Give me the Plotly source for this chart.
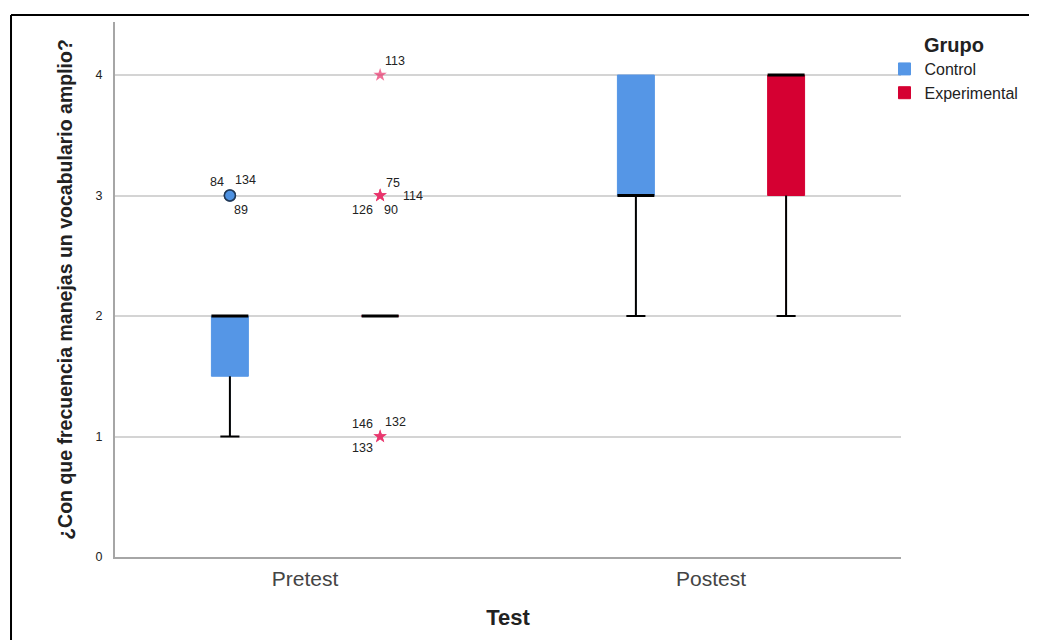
import plotly.graph_objects as go

# ---------------- data ----------------
tests = ["Pretest", "Postest"]
groups = ["Control", "Experimental"]

control_q1 = [1.5, 3]
control_median = [2, 3]
control_q3 = [2, 4]
control_low = [1, 2]
control_high = [2, 4]

exp_q1 = [2, 3]
exp_median = [2, 4]
exp_q3 = [2, 4]
exp_low = [2, 2]
exp_high = [2, 4]

# outliers (case numbers) : test, group, value, kind
out_case = ["84", "134", "89", "113", "75", "114", "126", "90", "146", "132", "133"]
out_test = ["Pretest"] * 11
out_group = ["Control"] * 3 + ["Experimental"] * 8
out_value = [3, 3, 3, 4, 3, 3, 3, 3, 1, 1, 1]
out_kind = ["outlier"] * 3 + ["extreme"] * 8

y_ticks = [0, 1, 2, 3, 4]

# ---------------- styles / positions ----------------
colors = {"Control": "#5596E6", "Experimental": "#D50032"}
group_offset = {"Control": -0.185, "Experimental": 0.185}
box_w = 0.091
cap_w = 0.047
label_shift = [(-13, 14), (16, 16), (11, -14), (15, 14), (13, 13), (33, 0),
               (-18, -14), (11, -14), (-18, 13), (15, 15), (-18, -11)]
FONT = "Liberation Sans, Arial, sans-serif"

stats = {
    "Control": (control_q1, control_median, control_q3, control_low, control_high),
    "Experimental": (exp_q1, exp_median, exp_q3, exp_low, exp_high),
}

fig = go.Figure()

for g in groups:
    q1, med, q3, lo, hi = stats[g]
    xs = [i + group_offset[g] for i in range(len(tests))]
    fig.add_trace(go.Box(
        x=xs, q1=q1, median=med, q3=q3, lowerfence=lo, upperfence=hi,
        width=box_w, name=g, fillcolor=colors[g],
        line=dict(color=colors[g], width=1), whiskerwidth=0,
        boxpoints=False, hoverinfo="skip", showlegend=True,
    ))

for g in groups:
    q1, med, q3, lo, hi = stats[g]
    wx, wy, mx, my = [], [], [], []
    for i in range(len(tests)):
        c = i + group_offset[g]
        if lo[i] < q1[i]:
            wx += [c, c, None, c - cap_w / 2, c + cap_w / 2, None]
            wy += [q1[i], lo[i], None, lo[i], lo[i], None]
        if hi[i] > q3[i]:
            wx += [c, c, None, c - cap_w / 2, c + cap_w / 2, None]
            wy += [q3[i], hi[i], None, hi[i], hi[i], None]
        mx += [c - box_w / 2, c + box_w / 2, None]
        my += [med[i], med[i], None]
    fig.add_trace(go.Scatter(x=wx, y=wy, mode="lines", line=dict(color="black", width=2),
                             showlegend=False, hoverinfo="skip"))
    fig.add_trace(go.Scatter(x=mx, y=my, mode="lines", line=dict(color="black", width=3),
                             showlegend=False, hoverinfo="skip"))

# outlier markers
ox, oy, osym, ocol, oline = [], [], [], [], []
for t, g, v, k in zip(out_test, out_group, out_value, out_kind):
    ox.append(tests.index(t) + group_offset[g])
    oy.append(v)
    if k == "outlier":
        osym.append("circle"); ocol.append("#4A90E2"); oline.append("#1B3454")
    else:
        osym.append("star"); ocol.append("#E8336B"); oline.append("#E8336B")
fig.add_trace(go.Scatter(
    x=ox, y=oy, mode="markers",
    marker=dict(symbol=osym, color=ocol, size=[11 if s == "circle" else 10 for s in osym],
                line=dict(color=oline, width=[1.5 if s == "circle" else 0 for s in osym])),
    showlegend=False, hoverinfo="skip"))

for case, xv, yv, (dx, dy) in zip(out_case, ox, oy, label_shift):
    fig.add_annotation(x=xv, y=yv, text=case, showarrow=False, xshift=dx, yshift=dy,
                       font=dict(family=FONT, size=12.5, color="#222"))

# frame (top & left border of the picture)
fig.add_shape(type="line", xref="paper", yref="paper", x0=-0.1323, x1=-0.1323, y0=-0.3, y1=1.0131,
              line=dict(color="black", width=2))
fig.add_shape(type="line", xref="paper", yref="paper", x0=-0.1323, x1=1.3, y0=1.0131, y1=1.0131,
              line=dict(color="black", width=2))

fig.update_layout(
    width=1029, height=632,
    margin=dict(l=107, r=136, t=14, b=83, autoexpand=False),
    paper_bgcolor="white", plot_bgcolor="white",
    font=dict(family=FONT, color="#222"),
    legend=dict(
        title=dict(text="<b>Grupo</b>", font=dict(size=20, color="#222"), side="top center"),
        x=0.979, xanchor="left", y=0.9925, yanchor="top", bgcolor="rgba(0,0,0,0)",
        font=dict(size=16, color="#222"), itemwidth=30, tracegroupgap=0,
    ),
    xaxis=dict(
        range=[-0.468, 1.468], tickvals=list(range(len(tests))), ticktext=tests,
        showgrid=False, zeroline=False, showline=True, linecolor="#A6A6A6", linewidth=2,
        ticks="", tickfont=dict(size=21, color="#444"), ticklabelstandoff=2,
        title=dict(text="<b>Test</b>", font=dict(size=22, color="#222"), standoff=20),
    ),
    yaxis=dict(
        range=[0, 4.44], tickvals=y_ticks, showgrid=True, gridcolor="#D4D4D4", gridwidth=2,
        zeroline=False, showline=True, linecolor="#A6A6A6", linewidth=2,
        ticks="", tickfont=dict(size=12.5, color="#222"), ticklabelstandoff=8,
        title=dict(text="<b>¿Con que frecuencia manejas un vocabulario amplio?</b>",
                   font=dict(size=19.5, color="#222"), standoff=18),
    ),
)

fig.write_html("out.html")
